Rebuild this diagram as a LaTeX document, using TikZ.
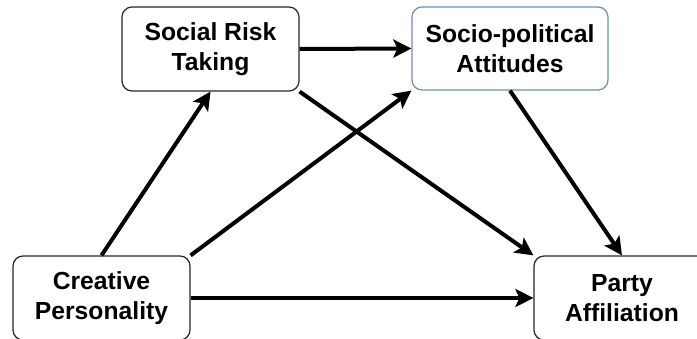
\documentclass[tikz,border=0pt]{standalone}
\usepackage{fontspec}
\setmainfont{Liberation Sans}
\usepackage{xcolor}
\usetikzlibrary{arrows.meta,positioning}
\definecolor{attblue}{RGB}{108,142,191}
\tikzset{
  factorbox/.style={draw=black!85,fill=white,rounded corners=10pt,align=center,
    line width=1.2pt,inner sep=0pt,minimum height=84pt,
    font=\fontsize{24.7}{30}\selectfont\bfseries},
  patharrow/.style={-{Stealth[length=18pt,width=18pt,inset=4pt]},line width=4pt}
}

\begin{document}
\begin{tikzpicture}[x=1pt,y=1pt]
  \useasboundingbox (0,0) rectangle (697,338);

  \node[factorbox,minimum width=177pt] (risk) at (210.5,289) {Social Risk\\Taking};
  \node[factorbox,draw=attblue,minimum width=196pt,minimum height=83pt] (attitude) at (510,289.5)
    {Socio-political\\Attitudes};
  \node[factorbox,minimum width=177pt] (creative) at (101.5,40) {Creative\\Personality};
  \node[factorbox,minimum width=176pt] (party) at (622,40) {Party\\Affiliation};

  \draw[patharrow] (risk.east) -- (attitude.west);
  \draw[patharrow] (creative.north) -- (risk.south);
  \draw[patharrow] (creative.north east) -- (attitude.south west);
  \draw[patharrow] (creative.east) -- (party.west);
  \draw[patharrow] (risk.south east) -- (party.north west);
  \draw[patharrow] (attitude.south) -- (party.north);
\end{tikzpicture}
\end{document}
